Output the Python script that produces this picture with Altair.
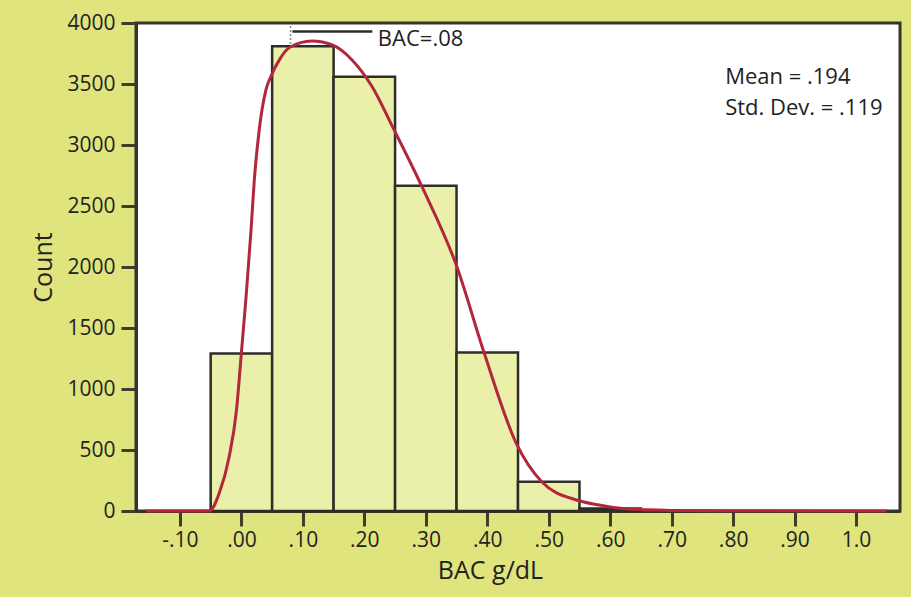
import altair as alt
import pandas as pd

# Histogram bins (BAC g/dL) and counts
bin_start = [-0.05, 0.05, 0.15, 0.25, 0.35, 0.45, 0.55]
bin_end = [0.05, 0.15, 0.25, 0.35, 0.45, 0.55, 0.65]
counts = [1290, 3810, 3560, 2665, 1300, 240, 20]

# Fitted curve
curve_x = [-0.155, -0.052, -0.036, -0.020, -0.008, 0.000, 0.0076, 0.0157, 0.021,
           0.029, 0.040, 0.048, 0.062, 0.078, 0.115, 0.148, 0.180, 0.213, 0.246,
           0.294, 0.350, 0.395, 0.447, 0.489, 0.545, 0.582, 0.620, 0.700, 0.800, 1.049]
curve_y = [0, 0, 147, 443, 828, 1300, 1757, 2305, 2715,
           3125, 3454, 3563, 3700, 3799, 3852, 3820, 3697, 3475, 3148,
           2656, 2010, 1295, 557, 238, 90, 49, 20, 5, 2, 0]

# Axis ticks
x_ticks = [-0.1, 0.0, 0.1, 0.2, 0.3, 0.4, 0.5, 0.6, 0.7, 0.8, 0.9, 1.0]
x_tick_labels = ["-.10", ".00", ".10", ".20", ".30", ".40", ".50", ".60", ".70", ".80", ".90", "1.0"]
y_ticks = [0, 500, 1000, 1500, 2000, 2500, 3000, 3500, 4000]

# Annotation
bac_x = 0.08
bac_line_end = 0.213
bac_line_y = 3930
bac_tick_top = 3975
bac_tick_bottom = 3820
bac_label = "BAC=.08"
bac_label_x = 0.222
bac_label_y = 3872
stats_lines = ["Mean = .194", "Std. Dev. = .119"]
stats_x = [0.787, 0.787]
stats_y = [3561, 3306]

FONT = "Open Sans"
X_DOMAIN = [-0.1715, 1.0715]

bars = pd.DataFrame({"x": bin_start, "x2": bin_end, "count": counts})
curve = pd.DataFrame({"x": curve_x, "y": curve_y})
hline = pd.DataFrame({"x": [bac_x + 0.003], "x2": [bac_line_end], "y": [bac_line_y]})
vline = pd.DataFrame({"x": [bac_x], "y": [bac_tick_top], "y2": [bac_tick_bottom]})
bac_txt = pd.DataFrame({"x": [bac_label_x], "y": [bac_label_y], "t": [bac_label]})
stats = pd.DataFrame({"x": stats_x, "y": stats_y, "t": stats_lines})

label_array = "[" + ",".join("'%s'" % s for s in x_tick_labels) + "]"

xscale = alt.Scale(domain=X_DOMAIN, nice=False, zero=False)
yscale = alt.Scale(domain=[0, 4000], nice=False)

xaxis = alt.Axis(
    values=x_ticks,
    labelExpr=label_array + "[round(datum.value*10)+1]",
    title="BAC g/dL",
    titleX=354,
    titleAlign="center",
    grid=False,
)
yaxis = alt.Axis(values=y_ticks, format="d", title="Count", grid=False)

bar_layer = alt.Chart(bars).mark_rect(
    fill="#eaf0a9", stroke="#2e2e26", strokeWidth=2.5
).encode(
    x=alt.X("x:Q", scale=xscale, axis=xaxis),
    x2="x2:Q",
    y=alt.Y("count:Q", scale=yscale, axis=yaxis),
    y2=alt.datum(0),
)

curve_layer = alt.Chart(curve).mark_line(
    color="#b3273c", strokeWidth=3, interpolate="monotone"
).encode(
    x=alt.X("x:Q", scale=xscale),
    y=alt.Y("y:Q", scale=yscale),
)

hline_layer = alt.Chart(hline).mark_rule(color="#2e2e2e", strokeWidth=2.5).encode(
    x="x:Q", x2="x2:Q", y="y:Q"
)
vline_layer = alt.Chart(vline).mark_rule(
    color="#888888", strokeWidth=1.5, strokeDash=[2, 2]
).encode(x="x:Q", y="y:Q", y2="y2:Q")

bac_layer = alt.Chart(bac_txt).mark_text(
    align="left", baseline="middle", font=FONT, fontSize=22, color="#222222"
).encode(x="x:Q", y="y:Q", text="t:N")

stats_layer = alt.Chart(stats).mark_text(
    align="left", baseline="middle", font=FONT, fontSize=22, color="#222222"
).encode(x="x:Q", y="y:Q", text="t:N")

chart = alt.layer(
    bar_layer, curve_layer, vline_layer, hline_layer, bac_layer, stats_layer
).properties(
    width=764,
    height=488,
    background="#dfe47d",
    padding={"left": 136, "top": 23, "right": 11, "bottom": 86},
    autosize=alt.AutoSizeParams(type="none"),
).configure_view(
    fill="white", stroke="#34342c", strokeWidth=3
).configure_axis(
    labelFont=FONT,
    titleFont=FONT,
    labelFontSize=21,
    titleFontSize=25,
    titleFontWeight="normal",
    labelColor="#222222",
    titleColor="#222222",
    domainColor="#34342c",
    domainWidth=3,
    tickColor="#3e3e2a",
    tickWidth=3,
    tickSize=15,
).configure_axisX(
    labelPadding=3,
    titlePadding=8,
).configure_axisY(
    labelPadding=6,
    titlePadding=10,
)

chart.save("out.html", embed_options={"renderer": "svg", "actions": False})
